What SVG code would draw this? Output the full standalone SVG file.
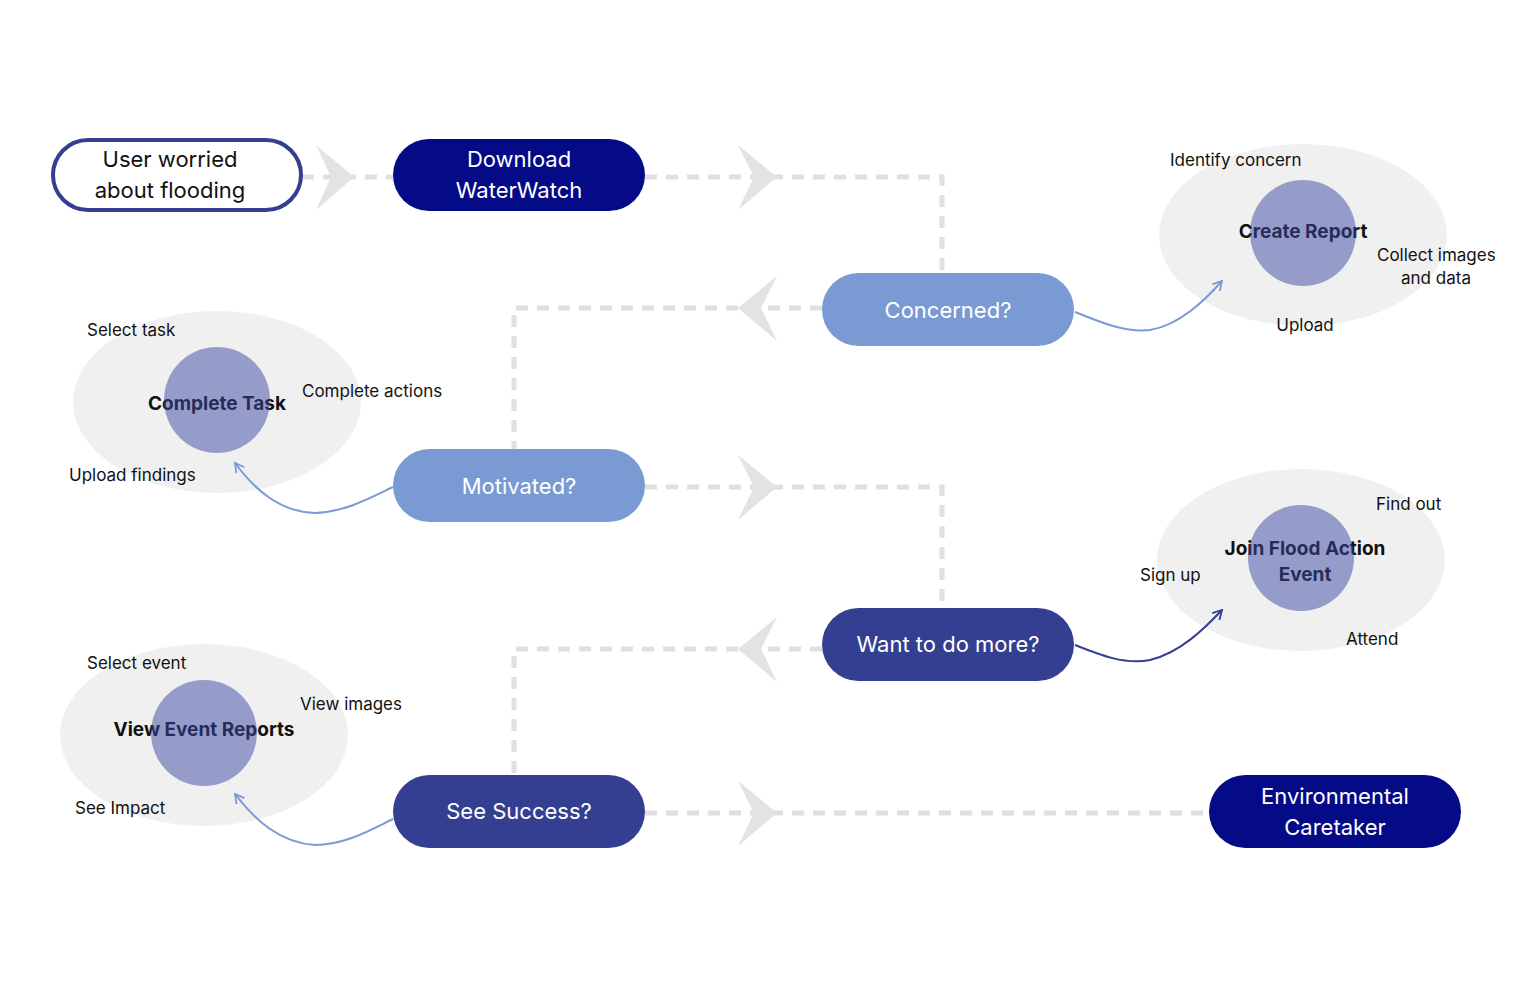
<svg xmlns="http://www.w3.org/2000/svg" width="1537" height="988" viewBox="0 0 1537 988">
<defs>
<style>
.bg{fill:#ffffff}
.dash{fill:none;stroke:#e0e0e0;stroke-width:5;stroke-dasharray:12 9}
.chev{fill:#e3e3e3}
.pill-text{font-family:Inter,"Liberation Sans",sans-serif;font-size:22px;fill:#ffffff;text-anchor:middle}
.halo{fill:#f0f0f0}
.core{fill:rgb(60,72,162);fill-opacity:0.5}
.bold{font-family:Inter,"Liberation Sans",sans-serif;font-size:19px;font-weight:700;fill:#111111;text-anchor:middle}
.small{font-family:Inter,"Liberation Sans",sans-serif;font-size:17px;fill:#111111}
.curve{fill:none;stroke-width:2}
</style>
<marker id="openL" viewBox="0 0 12 12" refX="10" refY="6" markerWidth="12" markerHeight="12" markerUnits="userSpaceOnUse" orient="auto">
<path d="M1,1 L10,6 L1,11" fill="none" stroke="#7a9ad4" stroke-width="1.8"/>
</marker>
<marker id="openD" viewBox="0 0 12 12" refX="10" refY="6" markerWidth="12" markerHeight="12" markerUnits="userSpaceOnUse" orient="auto">
<path d="M1,1 L10,6 L1,11" fill="none" stroke="#353f91" stroke-width="1.8"/>
</marker>
</defs>
<rect class="bg" x="0" y="0" width="1537" height="988"/>

<g id="node-create-report">
<ellipse class="halo" cx="1303" cy="235" rx="144" ry="91"/>
<text class="bold" x="1303" y="238">Create Report</text>
<circle class="core" cx="1303" cy="233" r="53"/>
<text class="small" x="1170" y="166">Identify concern</text>
<text class="small" x="1377" y="261">Collect images</text>
<text class="small" x="1436" y="284" text-anchor="middle">and data</text>
<text class="small" x="1305" y="331" text-anchor="middle">Upload</text>
</g>

<g id="node-complete-task">
<ellipse class="halo" cx="217" cy="402" rx="144" ry="91"/>
<text class="bold" x="217" y="410">Complete Task</text>
<circle class="core" cx="217" cy="400" r="53"/>
<text class="small" x="87" y="336">Select task</text>
<text class="small" x="302" y="397">Complete actions</text>
<text class="small" x="69" y="481">Upload findings</text>
</g>

<g id="node-join-event">
<ellipse class="halo" cx="1301" cy="560" rx="144" ry="91"/>
<text class="bold" x="1305" y="555">Join Flood Action</text>
<text class="bold" x="1305" y="581">Event</text>
<circle class="core" cx="1301" cy="558" r="53"/>
<text class="small" x="1376" y="510">Find out</text>
<text class="small" x="1140" y="581">Sign up</text>
<text class="small" x="1346" y="645">Attend</text>
</g>

<g id="node-view-reports">
<ellipse class="halo" cx="204" cy="735" rx="144" ry="91"/>
<text class="bold" x="204" y="736">View Event Reports</text>
<circle class="core" cx="204" cy="733" r="53"/>
<text class="small" x="87" y="669">Select event</text>
<text class="small" x="300" y="710">View images</text>
<text class="small" x="75" y="814">See Impact</text>
</g>

<g id="connectors">
<path class="dash" d="M302,177 L393,177"/>
<path class="dash" d="M645,177 L942,177 L942,273"/>
<path class="dash" d="M822,308 L514,308 L514,449"/>
<path class="dash" d="M645,487 L942,487 L942,608"/>
<path class="dash" d="M822,649 L514,649 L514,775"/>
<path class="dash" d="M645,813 L1209,813"/>
<path class="chev" d="M316,145 L354,177 L316,210 L331,177 Z"/>
<path class="chev" d="M738,145 L777,177 L738,210 L754,177 Z"/>
<path class="chev" d="M777,276 L738,308 L777,341 L761,308 Z"/>
<path class="chev" d="M738,455 L777,487 L738,520 L754,487 Z"/>
<path class="chev" d="M777,617 L738,649 L777,682 L761,649 Z"/>
<path class="chev" d="M738,781 L777,813 L738,846 L754,813 Z"/>
<path class="curve" stroke="#7a9ad4" marker-end="url(#openL)" d="M1075,312 C1100,322 1125,333 1150,330 C1180,325 1205,300 1222,281"/>
<path class="curve" stroke="#7a9ad4" marker-end="url(#openL)" d="M393,487 C370,498 345,512 315,513 C280,512 255,490 235,463"/>
<path class="curve" stroke="#353f91" marker-end="url(#openD)" d="M1075,645 C1100,655 1125,665 1150,660 C1180,653 1205,628 1222,610"/>
<path class="curve" stroke="#7a9ad4" marker-end="url(#openL)" d="M393,819 C370,830 345,845 315,845 C280,843 255,820 235,794"/>
</g>

<g id="node-user">
<rect x="53" y="140" width="248" height="70" rx="35" fill="#ffffff" stroke="#353f91" stroke-width="4"/>
<text class="pill-text" x="170" y="167" style="fill:#111111">User worried</text>
<text class="pill-text" x="170" y="198" style="fill:#111111">about flooding</text>
</g>

<g id="node-download">
<rect x="393" y="139" width="252" height="72" rx="36" fill="#050a87"/>
<text class="pill-text" x="519" y="167">Download</text>
<text class="pill-text" x="519" y="198">WaterWatch</text>
</g>

<g id="node-concerned">
<rect x="822" y="273" width="252" height="73" rx="36.5" fill="#7a9ad4"/>
<text class="pill-text" x="948" y="318">Concerned?</text>
</g>

<g id="node-motivated">
<rect x="393" y="449" width="252" height="73" rx="36.5" fill="#7a9ad4"/>
<text class="pill-text" x="519" y="494">Motivated?</text>
</g>

<g id="node-more">
<rect x="822" y="608" width="252" height="73" rx="36.5" fill="#353f91"/>
<text class="pill-text" x="948" y="652">Want to do more?</text>
</g>

<g id="node-success">
<rect x="393" y="775" width="252" height="73" rx="36.5" fill="#353f91"/>
<text class="pill-text" x="519" y="819">See Success?</text>
</g>

<g id="node-caretaker">
<rect x="1209" y="775" width="252" height="73" rx="36.5" fill="#050a87"/>
<text class="pill-text" x="1335" y="804">Environmental</text>
<text class="pill-text" x="1335" y="835">Caretaker</text>
</g>
</svg>
